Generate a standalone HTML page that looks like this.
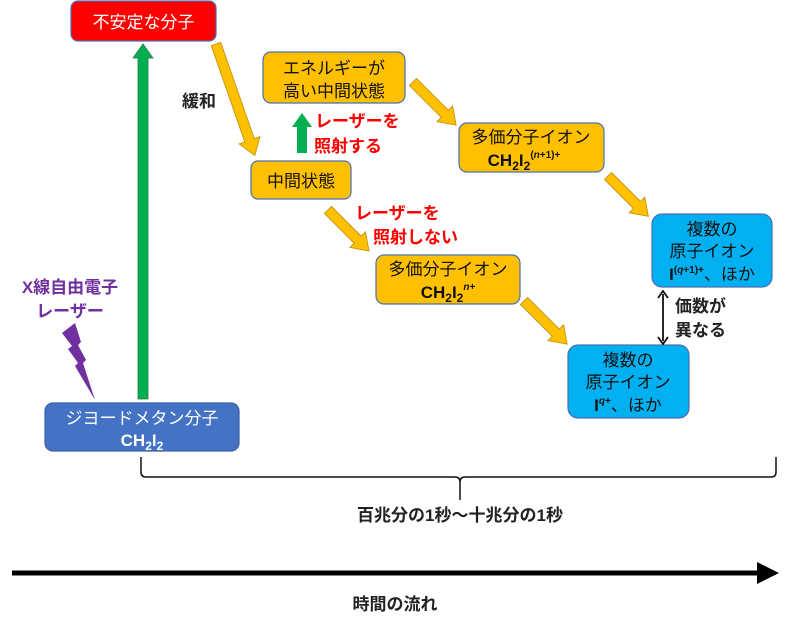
<!DOCTYPE html>
<html><head><meta charset="utf-8"><style>
html,body{margin:0;padding:0;background:#fff;}
svg{display:block;}
text{font-family:"Liberation Sans","Noto Sans CJK JP",sans-serif;}
</style></head><body>
<svg width="800" height="627" viewBox="0 0 800 627" xmlns="http://www.w3.org/2000/svg">
<rect x="71" y="1" width="145" height="40" rx="7" fill="#FF0000" stroke="#4a6fb5" stroke-width="1.2"/>
<text x="143.5" y="28" font-size="17" fill="#fff" text-anchor="middle">不安定な分子</text>

<rect x="45" y="403" width="194" height="48" rx="8" fill="#4472C4" stroke="#3a62a8" stroke-width="1.2"/>
<text x="142" y="424" font-size="17" fill="#fff" text-anchor="middle">ジヨードメタン分子</text>
<text x="142" y="446" font-size="17" font-weight="bold" fill="#fff" text-anchor="middle">CH<tspan font-size="12" dy="4">2</tspan><tspan dy="-4">I</tspan><tspan font-size="12" dy="4">2</tspan></text>

<rect x="263" y="52" width="142" height="51" rx="8" fill="#FFC000" stroke="#4a6fb5" stroke-width="1.2"/>
<text x="334" y="74" font-size="17" fill="#111" text-anchor="middle">エネルギーが</text>
<text x="334" y="97" font-size="17" fill="#111" text-anchor="middle">高い中間状態</text>

<rect x="251" y="161" width="100" height="38" rx="7" fill="#FFC000" stroke="#4a6fb5" stroke-width="1.2"/>
<text x="301" y="187" font-size="17" fill="#111" text-anchor="middle">中間状態</text>

<rect x="459" y="123" width="145" height="49" rx="8" fill="#FFC000" stroke="#4a6fb5" stroke-width="1.2"/>
<text x="531" y="143" font-size="17" fill="#111" text-anchor="middle">多価分子イオン</text>
<text x="524" y="166" font-size="17" font-weight="bold" fill="#111" text-anchor="middle">CH<tspan font-size="12" dy="4">2</tspan><tspan dy="-4">I</tspan><tspan font-size="12" dy="4">2</tspan><tspan font-size="10" dy="-12">(</tspan><tspan font-size="10" font-style="italic">n</tspan><tspan font-size="10">+1)+</tspan></text>

<rect x="376" y="255" width="144" height="49" rx="8" fill="#FFC000" stroke="#4a6fb5" stroke-width="1.2"/>
<text x="448" y="275" font-size="17" fill="#111" text-anchor="middle">多価分子イオン</text>
<text x="448" y="298" font-size="17" font-weight="bold" fill="#111" text-anchor="middle">CH<tspan font-size="12" dy="4">2</tspan><tspan dy="-4">I</tspan><tspan font-size="12" dy="4">2</tspan><tspan font-size="10" font-style="italic" dy="-12">n</tspan><tspan font-size="10">+</tspan></text>

<rect x="652" y="214" width="120" height="73" rx="10" fill="#00B0F0" stroke="#4a6fb5" stroke-width="1.2"/>
<text x="712" y="235" font-size="17" fill="#111" text-anchor="middle">複数の</text>
<text x="712" y="257" font-size="17" fill="#111" text-anchor="middle">原子イオン</text>
<text x="712" y="280" font-size="17" fill="#111" text-anchor="middle"><tspan font-weight="bold">I</tspan><tspan font-size="10" font-weight="bold" dy="-7">(</tspan><tspan font-size="10" font-weight="bold" font-style="italic">q</tspan><tspan font-size="10" font-weight="bold">+1)+</tspan><tspan dy="7">、ほか</tspan></text>

<rect x="568" y="345" width="121" height="73" rx="10" fill="#00B0F0" stroke="#4a6fb5" stroke-width="1.2"/>
<text x="628" y="366" font-size="17" fill="#111" text-anchor="middle">複数の</text>
<text x="628" y="388" font-size="17" fill="#111" text-anchor="middle">原子イオン</text>
<text x="628" y="411" font-size="17" fill="#111" text-anchor="middle"><tspan font-weight="bold">I</tspan><tspan font-size="10" font-weight="bold" font-style="italic" dy="-7">q</tspan><tspan font-size="10" font-weight="bold">+</tspan><tspan dy="7">、ほか</tspan></text>

<polygon points="138,399 148,399 148,58 153,58 143,44 133,58 138,58" fill="#00B050" stroke="#2f7a46" stroke-width="0.8"/>
<polygon points="297,153 307,153 307,127 312,127 302,113 292,127 297,127" fill="#00B050"/>

<g fill="#FFC000" stroke="#c79a1a" stroke-width="1">
<polygon transform="translate(216,44) rotate(70.8)" points="0,-5 102,-5 102,-11 118,0 102,11 102,5 0,5"/>
<polygon transform="translate(413,82) rotate(45)" points="0,-5 45,-5 45,-11 61,0 45,11 45,5 0,5"/>
<polygon transform="translate(328,210) rotate(45)" points="0,-5 42,-5 42,-11 58,0 42,11 42,5 0,5"/>
<polygon transform="translate(608,176) rotate(45)" points="0,-5 41,-5 41,-11 57,0 41,11 41,5 0,5"/>
<polygon transform="translate(524,301) rotate(45)" points="0,-5 45,-5 45,-11 61,0 45,11 45,5 0,5"/>
</g>

<text x="182" y="107" font-size="17" font-weight="bold" fill="#222">緩和</text>
<text x="315" y="127" font-size="17" font-weight="bold" fill="#FF0000">レーザーを</text>
<text x="314" y="152" font-size="17" font-weight="bold" fill="#FF0000">照射する</text>
<text x="355" y="219" font-size="17" font-weight="bold" fill="#FF0000">レーザーを</text>
<text x="373" y="243" font-size="17" font-weight="bold" fill="#FF0000">照射しない</text>
<text x="675" y="312" font-size="17" font-weight="bold" fill="#222">価数が</text>
<text x="675" y="336" font-size="17" font-weight="bold" fill="#222">異なる</text>
<text x="70" y="293" font-size="17" font-weight="bold" fill="#7030A0" text-anchor="middle">X線自由電子</text>
<text x="70" y="317" font-size="17" font-weight="bold" fill="#7030A0" text-anchor="middle">レーザー</text>

<polygon points="62,333 75,323 81,342 78,345 86,360 83,363 95,400 75,366 78,363 68,349 72,346" fill="#7030A0"/>

<line x1="663" y1="294" x2="663" y2="341" stroke="#111" stroke-width="1.8"/>
<polyline points="658,298 663,291 668,298" fill="none" stroke="#111" stroke-width="1.8"/>
<polyline points="658,337 663,344 668,337" fill="none" stroke="#111" stroke-width="1.8"/>

<path d="M141,457 L141,472 Q141,477 146,477 L455,477 Q460,477 460,482 L460,500 M460,482 Q460,477 465,477 L771,477 Q776,477 776,472 L776,457" fill="none" stroke="#111" stroke-width="1.5"/>
<text x="460" y="521" font-size="17" font-weight="bold" fill="#222" text-anchor="middle">百兆分の1秒～十兆分の1秒</text>

<line x1="12" y1="573" x2="760" y2="573" stroke="#000" stroke-width="5"/>
<polygon points="757,562 779,573 757,584" fill="#000"/>
<text x="395" y="610" font-size="17" font-weight="bold" fill="#222" text-anchor="middle">時間の流れ</text>
</svg>
</body></html>
